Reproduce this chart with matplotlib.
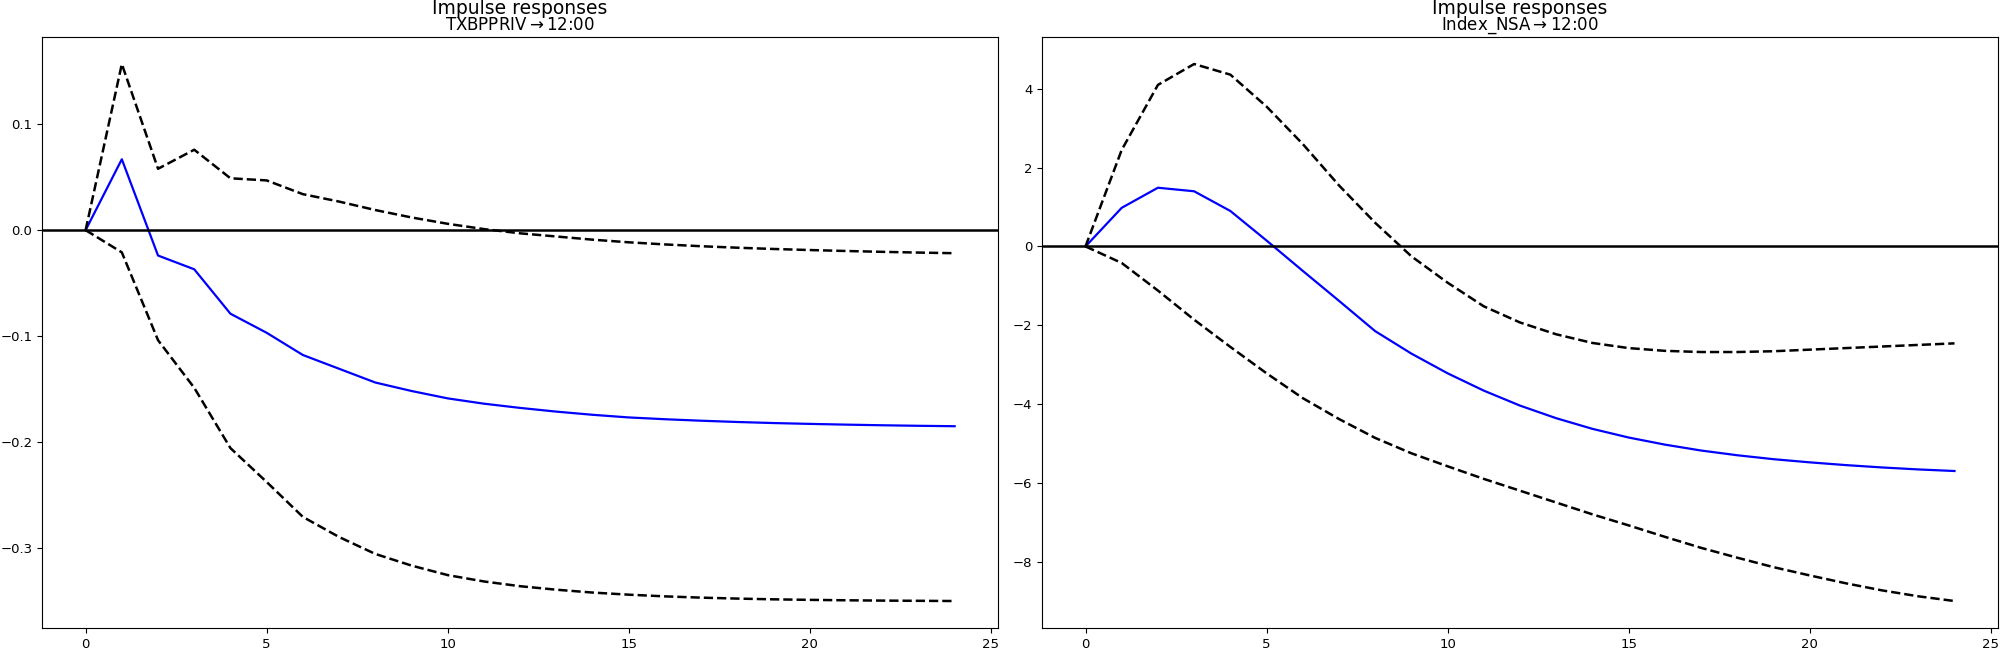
import numpy as np
import matplotlib
matplotlib.use("Agg")
import matplotlib.pyplot as plt

periods = np.arange(25)

# TXBPPRIV -> 12:00
irf_tx = [0.0, 0.067, -0.024, -0.037, -0.079, -0.097, -0.118, -0.131, -0.144,
          -0.152, -0.159, -0.164, -0.168, -0.1715, -0.1745, -0.177, -0.1787,
          -0.1801, -0.1813, -0.1823, -0.1831, -0.1838, -0.1844, -0.1849,
          -0.1853]
upper_tx = [0.0, 0.157, 0.058, 0.076, 0.049, 0.047, 0.034, 0.027, 0.019,
            0.012, 0.006, 0.001, -0.003, -0.006, -0.009, -0.0115, -0.0135,
            -0.0152, -0.0166, -0.0178, -0.0188, -0.0197, -0.0205, -0.0212,
            -0.0218]
lower_tx = [0.0, -0.021, -0.104, -0.149, -0.206, -0.238, -0.271, -0.290,
            -0.306, -0.317, -0.326, -0.332, -0.3365, -0.3398, -0.3425,
            -0.3445, -0.3461, -0.3473, -0.3482, -0.3489, -0.3494, -0.3498,
            -0.3501, -0.3503, -0.3505]

# Index_NSA -> 12:00
irf_idx = [0.0, 0.98, 1.49, 1.40, 0.90, 0.15, -0.62, -1.38, -2.15, -2.72,
           -3.22, -3.66, -4.04, -4.36, -4.63, -4.85, -5.03, -5.18, -5.30,
           -5.40, -5.48, -5.55, -5.61, -5.66, -5.70]
upper_idx = [0.0, 2.45, 4.10, 4.63, 4.36, 3.55, 2.60, 1.55, 0.60, -0.25,
             -0.92, -1.52, -1.93, -2.23, -2.45, -2.58, -2.65, -2.68, -2.68,
             -2.66, -2.62, -2.58, -2.54, -2.50, -2.46]
lower_idx = [0.0, -0.42, -1.12, -1.86, -2.55, -3.22, -3.85, -4.38, -4.86,
             -5.25, -5.58, -5.90, -6.20, -6.50, -6.80, -7.08, -7.37, -7.65,
             -7.90, -8.14, -8.35, -8.55, -8.73, -8.88, -9.00]

panels = [
    (r"TXBPPRIV$\rightarrow$12:00", irf_tx, upper_tx, lower_tx,
     [-0.3, -0.2, -0.1, 0.0, 0.1]),
    (r"Index_NSA$\rightarrow$12:00", irf_idx, upper_idx, lower_idx,
     [-8, -6, -4, -2, 0, 2, 4]),
]

fig, axes = plt.subplots(1, 2, figsize=(20.08, 6.52), dpi=100)
fig.subplots_adjust(left=0.021, right=0.995, top=0.943, bottom=0.037, wspace=0.046)

for ax, (name, irf, upper, lower, yticks) in zip(axes, panels):
    ax.plot(periods, irf, color="blue", lw=1.6)
    ax.plot(periods, upper, color="black", ls="--", lw=1.8)
    ax.plot(periods, lower, color="black", ls="--", lw=1.8)
    ax.axhline(0, color="black", lw=1.8)
    ax.set_xticks([0, 5, 10, 15, 20, 25])
    ax.set_yticks(yticks)
    ax.tick_params(labelsize=9.5)
    ax.set_title(name, fontsize=12, pad=5)
    pos = ax.get_position()
    fig.text((pos.x0 + pos.x1) / 2, 1 - 9 / 652, "Impulse responses",
             ha="center", va="center", fontsize=13.5)

fig.savefig("out.png")
